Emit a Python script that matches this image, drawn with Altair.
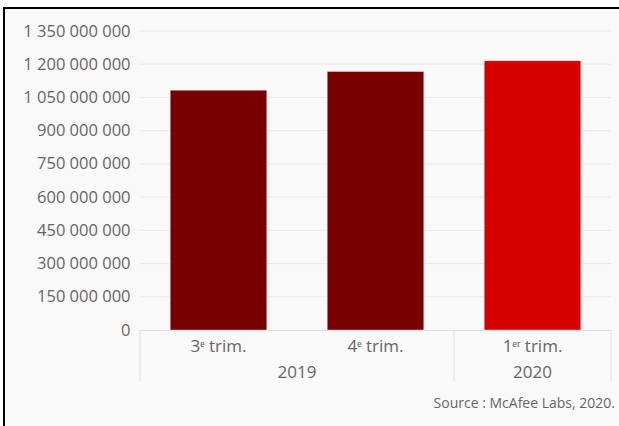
import altair as alt
import pandas as pd

quarters = ["3ᵉ trim.", "4ᵉ trim.", "1ᵉʳ trim."]
years = ["2019", "2019", "2020"]
values = [1083000000, 1167000000, 1216000000]
colors = ["#780000", "#780000", "#d50000"]
y_ticks = [0, 150000000, 300000000, 450000000, 600000000, 750000000,
           900000000, 1050000000, 1200000000, 1350000000]
year_labels = ["2019", "2020"]
year_anchor = ["4ᵉ trim.", "1ᵉʳ trim."]
year_band = [0.0, 0.5]
sep_anchor = ["3ᵉ trim.", "1ᵉʳ trim.", "1ᵉʳ trim."]
sep_band = [0.0, 0.0, 1.0]
source_text = "Source : McAfee Labs, 2020."

W, H = 471, 299
FONT = "Open Sans"

df = pd.DataFrame({"q": quarters, "year": years, "v": values, "c": colors})
grid_df = pd.DataFrame({"t": y_ticks})

xscale = alt.Scale(domain=quarters, paddingInner=0, paddingOuter=0)
yscale = alt.Scale(domain=[0, 1350000000])

yaxis = alt.Axis(values=y_ticks, format=",d", grid=False, ticks=False,
                 domain=False, labelFont=FONT, labelFontSize=16.5,
                 labelColor="#666666", labelPadding=10, zindex=1)

frame = alt.Chart(pd.DataFrame({"a": [0]})).mark_rect(
    fill="#f9f9f9", stroke="#000000", strokeWidth=2
).encode(
    x=alt.value(-136), x2=alt.value(W + 40),
    y=alt.value(-23), y2=alt.value(H + 140)
)

grid = alt.Chart(grid_df).transform_filter("datum.t > 0").mark_rule(
    color="#e8e8e8", strokeWidth=1
).encode(
    y=alt.Y("t:Q", scale=yscale, axis=yaxis, title=None),
    x=alt.value(0), x2=alt.value(W)
)

bars = alt.Chart(df).mark_bar(
    strokeWidth=1, stroke="#ffffff", strokeOpacity=0.4,
    width=alt.RelativeBandSize(0.615)
).encode(
    x=alt.X("q:N", scale=xscale, sort=quarters, title=None,
            axis=alt.Axis(labelAngle=0, labelFont=FONT, labelFontSize=17,
                          labelColor="#666666", ticks=False, domain=True,
                          domainColor="#e0e0e0", labelPadding=8, zindex=1)),
    y=alt.Y("v:Q", scale=yscale, title=None, axis=yaxis),
    color=alt.Color("c:N", scale=None, legend=None),
)

seps = []
for a, b in zip(sep_anchor, sep_band):
    seps.append(alt.Chart(pd.DataFrame({"q": [a]})).mark_rule(
        color="#e0e0e0", strokeWidth=1
    ).encode(
        x=alt.X("q:N", scale=xscale, sort=quarters, bandPosition=b),
        y=alt.value(H), y2=alt.value(H + 51)
    ))

ylabels = []
for lab, a, b in zip(year_labels, year_anchor, year_band):
    ylabels.append(alt.Chart(pd.DataFrame({"q": [a], "lab": [lab]})).mark_text(
        font=FONT, fontSize=17, color="#666666", baseline="middle", align="center"
    ).encode(
        x=alt.X("q:N", scale=xscale, sort=quarters, bandPosition=b),
        y=alt.value(H + 43),
        text="lab:N"
    ))

source = alt.Chart(pd.DataFrame({"s": [source_text]})).mark_text(
    font=FONT, fontSize=14, color="#666666", baseline="middle", align="right"
).encode(
    x=alt.value(W + 4), y=alt.value(H + 74), text="s:N"
)

chart = alt.layer(frame, grid, bars, *seps, *ylabels, source).properties(
    width=W, height=H,
    autosize=alt.AutoSizeParams(type="none"),
    padding={"left": 140, "top": 31, "right": 8, "bottom": 96},
    background="#ffffff",
).configure_view(stroke=None).configure(
    locale={"number": {"decimal": ",", "thousands": "\u00a0",
                       "grouping": [3], "currency": ["", " €"]}}
)

chart.save("out.html", embed_options={"renderer": "svg", "actions": False})
